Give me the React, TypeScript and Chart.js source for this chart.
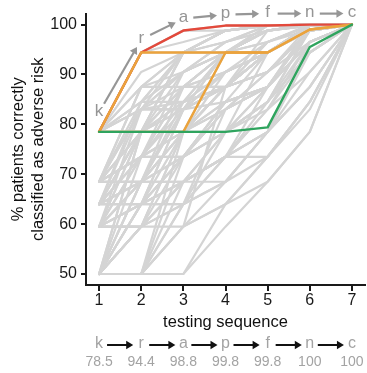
import React, { useEffect, useRef } from 'react';
import { Chart, registerables } from 'chart.js';

Chart.register(...registerables);

const FONT = '"Liberation Sans", Arial, sans-serif';

// ---- data ----
const steps = [1, 2, 3, 4, 5, 6, 7];
const yTicks = [50, 60, 70, 80, 90, 100];
const seqLetters = ['k', 'r', 'a', 'p', 'f', 'n', 'c'];
const seqValues = [78.5, 94.4, 98.8, 99.8, 99.8, 100, 100];

const redPath = [78.5, 94.4, 98.8, 99.8, 99.8, 100, 100];
const orangePathA = [78.5, 94.4, 94.4, 94.4, 94.4, 99, 100];
const orangePathB = [78.5, 78.5, 78.5, 94.4, 94.4, 99, 100];
const greenPath = [78.5, 78.5, 78.5, 78.5, 79.4, 95.5, 100];

const grayPaths = [
  [78.5, 94.4, 98.8, 99.8, 99.8, 100, 100],
  [78.5, 94.4, 94.4, 98.8, 99.8, 100, 100],
  [78.5, 94.4, 98.8, 98.8, 99.8, 99.8, 100],
  [78.5, 87.5, 94.4, 98.8, 99.8, 100, 100],
  [78.5, 84.5, 94.4, 94.4, 98.8, 100, 100],
  [78.5, 78.5, 87.5, 94.4, 98.8, 99.8, 100],
  [78.5, 83, 87.5, 87.5, 94.4, 99.8, 100],
  [78.5, 78.5, 84.5, 87.5, 94.4, 98.8, 100],
  [78.5, 84.5, 84.5, 94.4, 99.8, 99.8, 100],
  [78.5, 78.5, 83, 84.5, 87.5, 96.5, 100],
  [78.5, 87.5, 87.5, 94.4, 94.4, 98.8, 100],
  [78.5, 94.4, 96.5, 98.8, 99.8, 100, 100],
  [78.5, 90.5, 94.4, 98.8, 99.8, 100, 100],
  [78.5, 78.5, 94.4, 96.5, 99.8, 100, 100],
  [78.5, 83, 90.5, 94.4, 96.5, 99.8, 100],
  [78.5, 78.5, 78.5, 87.5, 94.4, 99, 100],
  [78.5, 83, 83, 90.5, 94.4, 99.8, 100],
  [68.5, 78.5, 94.4, 98.8, 99.8, 100, 100],
  [68.5, 73.5, 84.5, 87.5, 94.4, 99.8, 100],
  [68.5, 68.5, 78.5, 87.5, 98.8, 99.8, 100],
  [68.5, 83, 94.4, 94.4, 98.8, 100, 100],
  [68.5, 73.5, 78.5, 78.5, 84.5, 96.5, 100],
  [68.5, 68.5, 73.5, 84.5, 87.5, 99, 100],
  [68.5, 78.5, 78.5, 94.4, 94.4, 99.8, 100],
  [68.5, 87.5, 90.5, 94.4, 98.8, 100, 100],
  [68.5, 73.5, 73.5, 83, 87.5, 98.8, 100],
  [68.5, 87.5, 94.4, 96.5, 99.8, 100, 100],
  [68.5, 84.5, 90.5, 96.5, 98.8, 100, 100],
  [68.5, 78.5, 87.5, 87.5, 96.5, 99.8, 100],
  [68.5, 68.5, 83, 94.4, 96.5, 100, 100],
  [68.5, 73.5, 90.5, 94.4, 98.8, 99.8, 100],
  [68.5, 83, 83, 87.5, 90.5, 98.8, 100],
  [64, 78.5, 87.5, 94.4, 99.8, 100, 100],
  [64, 68.5, 78.5, 84.5, 94.4, 99, 100],
  [64, 64, 73.5, 78.5, 87.5, 98.8, 100],
  [64, 73.5, 73.5, 84.5, 87.5, 99.8, 100],
  [64, 68.5, 68.5, 73.5, 78.5, 96.5, 100],
  [64, 83, 84.5, 87.5, 94.4, 100, 100],
  [64, 73.5, 83, 90.5, 94.4, 99.8, 100],
  [64, 64, 68.5, 78.5, 84.5, 94.4, 100],
  [64, 78.5, 90.5, 96.5, 98.8, 100, 100],
  [64, 84.5, 94.4, 98.8, 99.8, 100, 100],
  [64, 68.5, 87.5, 90.5, 94.4, 99.8, 100],
  [64, 73.5, 78.5, 87.5, 96.5, 99, 100],
  [64, 64, 83, 87.5, 94.4, 98.8, 100],
  [64, 78.5, 78.5, 83, 90.5, 96.5, 100],
  [59.5, 78.5, 84.5, 94.4, 98.8, 100, 100],
  [59.5, 68.5, 78.5, 87.5, 94.4, 99.8, 100],
  [59.5, 64, 73.5, 78.5, 84.5, 99, 100],
  [59.5, 59.5, 68.5, 73.5, 78.5, 87.5, 100],
  [59.5, 64, 64, 68.5, 73.5, 84.5, 100],
  [59.5, 73.5, 78.5, 78.5, 87.5, 96.5, 100],
  [59.5, 68.5, 83, 87.5, 90.5, 98.8, 100],
  [59.5, 59.5, 64, 73.5, 83, 94.4, 100],
  [59.5, 73.5, 87.5, 90.5, 96.5, 99.8, 100],
  [59.5, 64, 68.5, 73.5, 73.5, 84.5, 100],
  [59.5, 83, 90.5, 94.4, 98.8, 100, 100],
  [59.5, 64, 78.5, 90.5, 94.4, 99.8, 100],
  [59.5, 68.5, 73.5, 83, 87.5, 96.5, 100],
  [59.5, 59.5, 78.5, 83, 90.5, 99, 100],
  [59.5, 78.5, 78.5, 87.5, 94.4, 98.8, 100],
  [50, 78.5, 94.4, 98.8, 99.8, 100, 100],
  [50, 68.5, 78.5, 87.5, 94.4, 99.8, 100],
  [50, 64, 73.5, 84.5, 87.5, 99, 100],
  [50, 59.5, 68.5, 73.5, 78.5, 87.5, 100],
  [50, 50, 59.5, 64, 73.5, 84.5, 100],
  [50, 50, 50, 59.5, 68.5, 78.5, 100],
  [50, 50, 64, 68.5, 78.5, 94.4, 100],
  [50, 50, 78.5, 87.5, 94.4, 99.8, 100],
  [50, 59.5, 59.5, 64, 68.5, 78.5, 100],
  [50, 64, 64, 78.5, 84.5, 98.8, 100],
  [50, 50, 68.5, 78.5, 94.4, 99.8, 100],
  [50, 59.5, 78.5, 84.5, 87.5, 99.8, 100],
  [50, 50, 50, 64, 73.5, 83, 100],
  [50, 68.5, 68.5, 73.5, 84.5, 94.4, 100],
  [50, 59.5, 68.5, 68.5, 78.5, 87.5, 100],
  [50, 50, 73.5, 83, 87.5, 98.8, 100],
  [50, 64, 83, 87.5, 90.5, 99.8, 100],
  [50, 59.5, 73.5, 78.5, 83, 96.5, 100],
  [50, 50, 59.5, 87.5, 90.5, 98.8, 100],
  [50, 73.5, 87.5, 94.4, 98.8, 100, 100],
  [50, 59.5, 64, 83, 87.5, 96.5, 100],
  [50, 64, 68.5, 73.5, 83, 90.5, 100],
  [50, 50, 64, 73.5, 87.5, 96.5, 100],
  [50, 68.5, 84.5, 90.5, 94.4, 99.8, 100],
  [50, 50, 59.5, 68.5, 78.5, 90.5, 100],
  [50, 78.5, 83, 94.4, 98.8, 100, 100],
];

// ---- styles ----
const GRAY = '#d4d4d4';
const RED = '#e3493b';
const ORANGE = '#eba33c';
const GREEN = '#2fa45e';

const toPts = (arr: number[]) => arr.map((v, i) => ({ x: steps[i], y: v }));

function drawArrow(ctx: CanvasRenderingContext2D, x1: number, y1: number, x2: number, y2: number, color: string, lw: number, head: number) {
  const ang = Math.atan2(y2 - y1, x2 - x1);
  ctx.save();
  ctx.strokeStyle = color;
  ctx.fillStyle = color;
  ctx.lineWidth = lw;
  ctx.beginPath();
  ctx.moveTo(x1, y1);
  ctx.lineTo(x2 - Math.cos(ang) * head * 0.8, y2 - Math.sin(ang) * head * 0.8);
  ctx.stroke();
  ctx.beginPath();
  ctx.moveTo(x2, y2);
  ctx.lineTo(x2 - head * Math.cos(ang) + head * 0.6 * Math.sin(ang), y2 - head * Math.sin(ang) - head * 0.6 * Math.cos(ang));
  ctx.lineTo(x2 - head * Math.cos(ang) - head * 0.6 * Math.sin(ang), y2 - head * Math.sin(ang) + head * 0.6 * Math.cos(ang));
  ctx.closePath();
  ctx.fill();
  ctx.restore();
}

const annotationPlugin = {
  id: 'seqAnnotations',
  afterDraw(chart: any) {
    const { ctx, scales } = chart;
    const xs = scales.x;
    const ys = scales.y;
    // anchor heights (data units) of the letters placed above the red path
    const topY = [82.6, 97.2, 101.4, 102.2, 102.4, 102.4, 102.4];
    const pts = seqLetters.map((_, i) => ({ x: xs.getPixelForValue(steps[i]), y: ys.getPixelForValue(topY[i]) }));
    ctx.save();
    ctx.font = `17px ${FONT}`;
    ctx.fillStyle = '#959595';
    ctx.textAlign = 'center';
    ctx.textBaseline = 'middle';
    pts.forEach((p, i) => ctx.fillText(seqLetters[i], p.x, p.y));
    for (let i = 0; i < pts.length - 1; i++) {
      const a = pts[i];
      const b = pts[i + 1];
      const dx = b.x - a.x;
      const dy = b.y - a.y;
      const len = Math.hypot(dx, dy);
      const ux = dx / len;
      const uy = dy / len;
      drawArrow(ctx, a.x + ux * 10, a.y + uy * 10 + 1, b.x - ux * 8.5, b.y - uy * 8.5 + 1, '#969696', 2.2, 7);
    }
    // sequence below the axis
    const rowY = 344;
    const valY = 362;
    ctx.font = `16px ${FONT}`;
    ctx.fillStyle = '#a3a3a3';
    seqLetters.forEach((l, i) => ctx.fillText(l, xs.getPixelForValue(steps[i]), rowY));
    for (let i = 0; i < steps.length - 1; i++) {
      const x1 = xs.getPixelForValue(steps[i]) + 8;
      const x2 = xs.getPixelForValue(steps[i + 1]) - 8;
      drawArrow(ctx, x1, rowY + 1, x2, rowY + 1, '#111111', 2, 7);
    }
    ctx.font = `14px ${FONT}`;
    ctx.fillStyle = '#a3a3a3';
    seqValues.forEach((v, i) => ctx.fillText(String(v), xs.getPixelForValue(steps[i]), valY));
    ctx.restore();
  },
};

export default function App() {
  const ref = useRef<HTMLCanvasElement | null>(null);

  useEffect(() => {
    if (!ref.current) return;
    const lineDs = (arr: number[], color: string, width: number) => ({
      data: toPts(arr),
      borderColor: color,
      borderWidth: width,
      pointRadius: 0,
      tension: 0,
      fill: false,
      borderJoinStyle: 'round' as const,
      borderCapStyle: 'round' as const,
    });
    // Chart.js paints the first dataset last (on top)
    const datasets = [
      lineDs(greenPath, GREEN, 2.4),
      lineDs(orangePathA, ORANGE, 2.4),
      lineDs(orangePathB, ORANGE, 2.4),
      lineDs(redPath, RED, 2.4),
      ...grayPaths.map((p) => lineDs(p, GRAY, 2.2)),
    ];
    const chart = new Chart(ref.current, {
      type: 'line',
      data: { datasets },
      options: {
        responsive: false,
        animation: false,
        events: [],
        layout: { padding: { left: 0, right: 2, top: 8, bottom: 0 } },
        plugins: { legend: { display: false }, tooltip: { enabled: false } },
        scales: {
          x: {
            type: 'linear',
            min: 0.69,
            max: 7.31,
            afterBuildTicks: (s: any) => {
              s.ticks = steps.map((v) => ({ value: v }));
            },
            afterFit: (s: any) => {
              s.height = 88;
            },
            grid: { drawOnChartArea: false, drawTicks: true, tickLength: 6, color: '#1a1a1a', lineWidth: 2 },
            border: { display: true, color: '#1a1a1a', width: 2 },
            ticks: { padding: 0, color: '#1a1a1a', font: { family: FONT, size: 16 }, autoSkip: false, maxRotation: 0 },
            title: {
              display: true,
              text: 'testing sequence',
              color: '#111111',
              font: { family: FONT, size: 16.5 },
              padding: { top: 0, bottom: 41 },
            },
          },
          y: {
            type: 'linear',
            min: 47.8,
            max: 102.2,
            afterBuildTicks: (s: any) => {
              s.ticks = yTicks.map((v) => ({ value: v }));
            },
            afterFit: (s: any) => {
              s.width = 86;
            },
            grid: { drawOnChartArea: false, drawTicks: true, tickLength: 5, color: '#1a1a1a', lineWidth: 2 },
            border: { display: true, color: '#1a1a1a', width: 2 },
            ticks: { padding: 4, color: '#1a1a1a', font: { family: FONT, size: 16 } },
            title: {
              display: true,
              text: ['% patients correctly', 'classified as adverse risk'],
              color: '#111111',
              font: { family: FONT, size: 16.5 },
              padding: { top: 9, bottom: 0 },
            },
          },
        },
      },
      plugins: [annotationPlugin],
    } as any);
    return () => chart.destroy();
  }, []);

  return (
    <div style={{ position: 'fixed', left: 0, top: 0, width: 367, height: 373, background: '#fff' }}>
      <canvas ref={ref} width={367} height={373} style={{ display: 'block' }} />
    </div>
  );
}
